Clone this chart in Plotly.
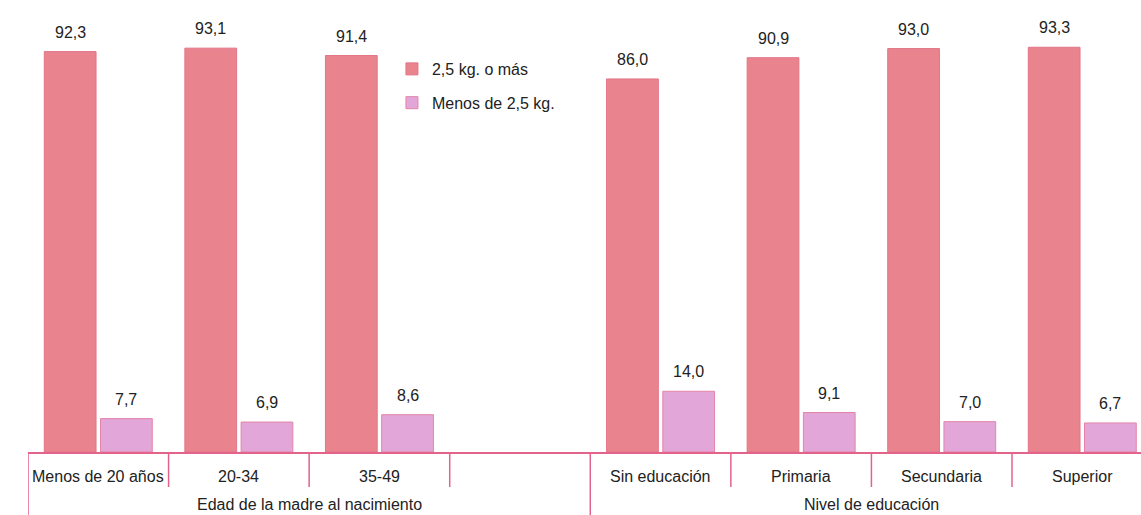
import plotly.graph_objects as go

# ---- data ----
categories = ["Menos de 20 años", "20-34", "35-49", " ", "Sin educación", "Primaria", "Secundaria", "Superior"]
peso_normal = [92.3, 93.1, 91.4, None, 86.0, 90.9, 93.0, 93.3]
peso_bajo = [7.7, 6.9, 8.6, None, 14.0, 9.1, 7.0, 6.7]
series_names = ["2,5 kg. o más", "Menos de 2,5 kg."]
groups = ["Edad de la madre al nacimiento", "Nivel de educación"]
group_spans = [(0, 3), (4, 7)]

# ---- style ----
RED = "#e9848f"
RED_LINE = "#e27486"
PINK = "#e2a6d8"
PINK_LINE = "#e384a6"
DIV = "#e4638a"
TXT = "#222222"
FONT = "Liberation Sans, Arial, sans-serif"
BARGAP = 0.2
GROUPGAP = 0.08

fig = go.Figure()
fig.add_trace(go.Bar(
    x=categories, y=peso_normal, name=series_names[0], legendgroup="a",
    marker=dict(color=RED, line=dict(color=RED_LINE, width=1)),
))
fig.add_trace(go.Bar(
    x=categories, y=peso_bajo, name=series_names[1], legendgroup="b",
    marker=dict(color=PINK, line=dict(color=PINK_LINE, width=1)),
))

annotations = []
offset = (1 - BARGAP) / 4
for i, (a, b) in enumerate(zip(peso_normal, peso_bajo)):
    for val, dx in ((a, -offset), (b, offset)):
        if val is None:
            continue
        annotations.append(dict(
            x=i + dx, y=val, xref="x", yref="y", text=f"{val:.1f}".replace(".", ","),
            showarrow=False, yanchor="bottom", yshift=9,
            font=dict(size=16, color=TXT, family=FONT),
        ))
    if categories[i].strip():
        annotations.append(dict(
            x=i, y=0, xref="x", yref="paper", text=categories[i], showarrow=False,
            yanchor="middle", yshift=-24, font=dict(size=16, color=TXT, family=FONT),
        ))
for g, (s, e) in zip(groups, group_spans):
    annotations.append(dict(
        x=(s + e) / 2, y=0, xref="x", yref="paper", text=g, showarrow=False,
        yanchor="middle", yshift=-52, font=dict(size=16, color=TXT, family=FONT),
    ))

shapes = []
PLOT_H = 452
long_y = -63 / PLOT_H
short_y = -35 / PLOT_H
starts = [s for s, _ in group_spans]
for i in range(len(categories)):
    shapes.append(dict(
        type="line", xref="x", yref="paper", x0=i - 0.5, x1=i - 0.5,
        y0=0, y1=long_y if i in starts else short_y,
        line=dict(color=DIV, width=1.5),
    ))

fig.update_layout(
    width=1141, height=515,
    margin=dict(l=28, r=0, t=0, b=63),
    paper_bgcolor="white", plot_bgcolor="white",
    barmode="group", bargap=BARGAP, bargroupgap=GROUPGAP,
    font=dict(family=FONT, size=16, color=TXT),
    showlegend=True,
    legend=dict(x=0.327, y=0.885, xanchor="left", yanchor="top",
                traceorder="grouped", tracegroupgap=10,
                font=dict(size=16, color=TXT, family=FONT),
                bgcolor="rgba(0,0,0,0)", itemwidth=30),
    xaxis=dict(type="category", categoryorder="array", categoryarray=categories,
               range=[-0.5, -0.5 + 1113 / 140.57], showticklabels=False,
               showline=True, linecolor=DIV, linewidth=1.5, showgrid=False,
               zeroline=False, ticks=""),
    yaxis=dict(range=[0, 104.2], visible=False, showgrid=False, zeroline=False),
    annotations=annotations,
    shapes=shapes,
)

fig.write_html("out.html", config={"displayModeBar": False},
               post_script="document.body.style.margin='0px';document.body.style.overflow='hidden';")
